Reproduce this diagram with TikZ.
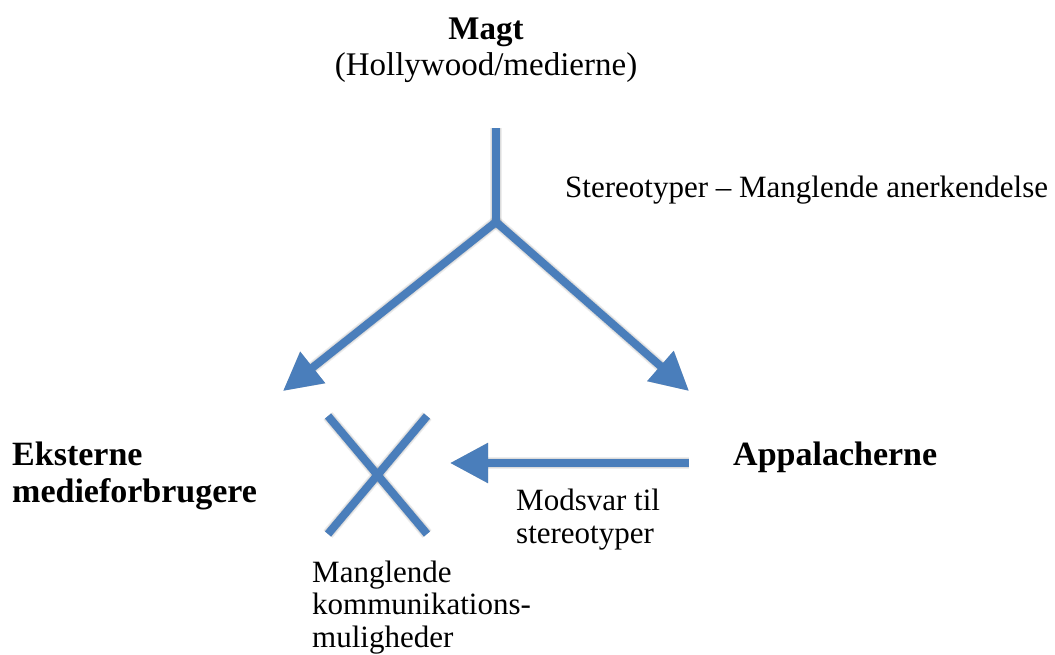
\documentclass[tikz,border=0pt]{standalone}
\usepackage{fontspec}
\setmainfont{Liberation Serif}
\usetikzlibrary{arrows.meta}
\definecolor{arrowblue}{RGB}{74,126,187}
\tikzset{
  bar/.style={line width=8pt, draw=arrowblue},
  barshadow/.style={line width=#1, draw=black, opacity=0.07},
  headarrow/.style={-{Triangle[length=38pt,width=38pt]}},
  lbl/.style={font=\fontsize{31}{32.5}\selectfont, inner sep=0pt, align=left},
  blbl/.style={inner sep=0pt, align=left, font=\fontsize{34}{37}\selectfont\bfseries}
}
\begin{document}
\begin{tikzpicture}[x=1pt,y=-1pt]
\useasboundingbox (0,0) rectangle (1055,654);
% coordinates
\coordinate (top) at (496,128);
\coordinate (j) at (496,222);
\coordinate (ltip) at (283,391);
\coordinate (rtip) at (689,391);
\coordinate (hstart) at (689,463);
\coordinate (htip) at (450,463);
\coordinate (x1) at (328,416);
\coordinate (x2) at (427,534);
\coordinate (x3) at (427,416);
\coordinate (x4) at (328,534);
% soft shadows
\foreach \w in {12pt,10pt,8pt}{
\begin{scope}[shift={(3,5)}]
\draw[barshadow=\w] (top) -- (j);
\draw[barshadow=\w, headarrow] (j) -- (ltip);
\draw[barshadow=\w, headarrow] (j) -- (rtip);
\draw[barshadow=\w, headarrow] (hstart) -- (htip);
\draw[barshadow=\w] (x1) -- (x2);
\draw[barshadow=\w] (x3) -- (x4);
\end{scope}}
% main shapes
\draw[bar] (top) -- (j);
\draw[bar, headarrow, fill=arrowblue] (j) -- (ltip);
\draw[bar, headarrow, fill=arrowblue] (j) -- (rtip);
\draw[bar, headarrow, fill=arrowblue] (hstart) -- (htip);
\draw[bar] (x1) -- (x2);
\draw[bar] (x3) -- (x4);
% texts
\node[blbl, font=\fontsize{33}{37}\selectfont\bfseries, anchor=base] (magt) at (486,39) {Magt};
\node[lbl, font=\fontsize{33}{35}\selectfont, anchor=base] (holly) at (486,75) {(Hollywood/medierne)};
\node[lbl, anchor=base west] (stereo) at (565,197) {Stereotyper – Manglende anerkendelse};
\node[blbl, anchor=base west] (ekst) at (12,502) {Eksterne\\medieforbrugere};
\node[blbl, anchor=base west] (appa) at (733,465) {Appalacherne};
\node[lbl, anchor=base west] (mods) at (516,543) {Modsvar til\\stereotyper};
\node[lbl, anchor=base west] (mang) at (312,647) {Manglende\\kommunikations-\\muligheder};
\end{tikzpicture}
\end{document}
